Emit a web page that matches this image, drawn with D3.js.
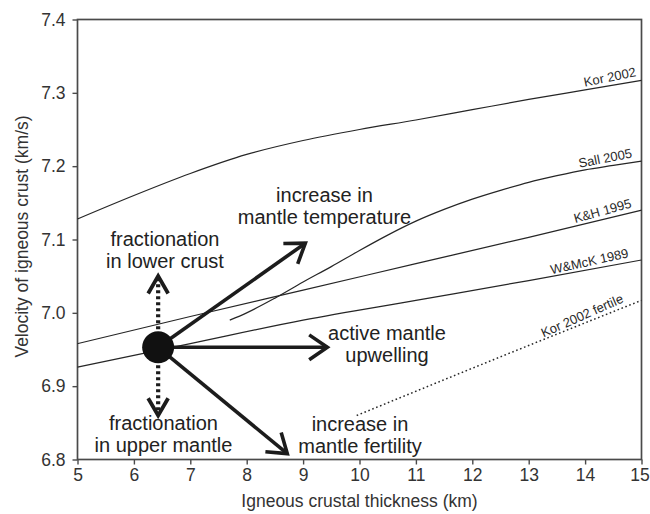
<!DOCTYPE html>
<html>
<head>
<meta charset="utf-8">
<script src="https://cdn.jsdelivr.net/npm/d3@7"></script>
<style>
  html, body { margin: 0; padding: 0; background: #fff; }
  svg { display: block; font-family: "Liberation Sans", Arial, Helvetica, sans-serif; }
</style>
</head>
<body>
<svg id="chart" width="650" height="514"></svg>
<script>
// Crustal thickness (km) vs. lower-crust P-wave velocity (km/s) model curves
const xTicks = [5, 6, 7, 8, 9, 10, 11, 12, 13, 14, 15];
const yTicks = [6.8, 6.9, 7.0, 7.1, 7.2, 7.3, 7.4];

const kor2002 = [[5, 7.128], [6, 7.16], [7, 7.19], [8, 7.216], [9, 7.235], [10, 7.25],
                 [11, 7.263], [12, 7.277], [13, 7.291], [14, 7.304], [15, 7.317]];
const sall2005 = [[7.7, 6.99], [8, 7.0], [8.5, 7.02], [9, 7.042], [9.5, 7.063], [10, 7.085],
                  [10.5, 7.106], [11, 7.125], [11.5, 7.141], [12, 7.155], [12.5, 7.167],
                  [13, 7.178], [13.5, 7.187], [14, 7.195], [14.5, 7.201], [15, 7.207]];
const kh1995 = [[5, 6.958], [7, 6.995], [9, 7.031], [11, 7.067], [13, 7.103], [15, 7.14]];
const wmck1989 = [[5, 6.926], [7, 6.958], [9, 6.99], [11, 7.017], [13, 7.044], [15, 7.072]];
const kor2002fertile = [[9.95, 6.86], [12.5, 6.94], [15, 7.017]];

const seriesNames = ["Kor 2002", "Sall 2005", "K&H 1995", "W&McK 1989", "Kor 2002 fertile"];
const seriesValues = [kor2002, sall2005, kh1995, wmck1989, kor2002fertile];
const labelEndX = [14.93, 14.86, 14.86, 14.8, 14.73];
const labelStartX = [13.95, 13.9, 13.85, 13.4, 13.2];

// reference state and the direction of change for each process
const origin = [6.43, 6.953];
const solidArrowTips = [[9.04, 7.095], [9.43, 6.953], [8.72, 6.808]];
const dottedArrowTips = [[6.43, 7.050], [6.43, 6.860]];

const noteLines = [
  ["fractionation", "in lower crust"],
  ["increase in", "mantle temperature"],
  ["active mantle", "upwelling"],
  ["fractionation", "in upper mantle"],
  ["increase in", "mantle fertility"]
];
const noteAnchors = [[6.551, 7.0918], [9.379, 7.151], [10.488, 6.963], [6.525, 6.840], [10.009, 6.8386]];

const svg = d3.select("#chart");
const plotLeft = 77.5, plotRight = 641.5, plotTop = 19.5, plotBottom = 459.5;
const x = d3.scaleLinear().domain([5, 15]).range([plotLeft, plotRight]);
const y = d3.scaleLinear().domain([6.8, 7.4]).range([plotBottom, plotTop]);
const ink = "#1c1c1c";
const axisInk = "#4a4a4a";

// axes
const gx = svg.append("g").attr("transform", `translate(0,${plotBottom})`)
  .call(d3.axisBottom(x).tickValues(xTicks).tickSize(5).tickPadding(4).tickFormat(d3.format("d")));
const gy = svg.append("g").attr("transform", `translate(${plotLeft},0)`)
  .call(d3.axisLeft(y).tickValues(yTicks).tickSize(5).tickPadding(7).tickFormat(d3.format(".1f")));
[gx, gy].forEach(g => {
  g.select(".domain").remove();
  g.selectAll(".tick line").attr("stroke", axisInk).attr("stroke-width", 1.4);
  g.selectAll(".tick text").attr("fill", "#333").style("font-size", "17.5px")
    .style("font-family", '"Liberation Sans", Arial, sans-serif');
});
// keep the last x label inside the page edge
gx.selectAll(".tick text").filter(d => d === xTicks[xTicks.length - 1]).attr("dx", "-2");

// plot frame
svg.append("rect").attr("x", plotLeft).attr("y", plotTop)
  .attr("width", plotRight - plotLeft).attr("height", plotBottom - plotTop)
  .attr("fill", "none").attr("stroke", axisInk).attr("stroke-width", 1.7);

// axis titles
svg.append("text").attr("x", (plotLeft + plotRight) / 2).attr("y", 507)
  .attr("text-anchor", "middle").attr("fill", "#333").style("font-size", "17.5px")
  .text("Igneous crustal thickness (km)");
svg.append("text").attr("transform", `translate(28,${(plotTop + plotBottom) / 2 - 3}) rotate(-90)`)
  .attr("text-anchor", "middle").attr("fill", "#333").style("font-size", "17.5px")
  .text("Velocity of igneous crust (km/s)");

// model curves
const line = d3.line().x(d => x(d[0])).y(d => y(d[1])).curve(d3.curveMonotoneX);
function valueAt(pts, xv) {
  for (let i = 1; i < pts.length; i++) {
    if (xv <= pts[i][0]) {
      const t = (xv - pts[i - 1][0]) / (pts[i][0] - pts[i - 1][0]);
      return pts[i - 1][1] + t * (pts[i][1] - pts[i - 1][1]);
    }
  }
  return pts[pts.length - 1][1];
}
seriesValues.forEach((pts, i) => {
  const fertile = i === 4;
  svg.append("path").attr("d", line(pts)).attr("fill", "none")
    .attr("stroke", "#262626").attr("stroke-width", fertile ? 1.5 : 1.2)
    .attr("stroke-dasharray", fertile ? "1.6,2.6" : null);

  const xe = labelEndX[i], xs = labelStartX[i];
  const px = x(xe), py = y(valueAt(pts, xe));
  const ang = Math.atan2(y(valueAt(pts, xe)) - y(valueAt(pts, xs)), x(xe) - x(xs)) * 180 / Math.PI;
  svg.append("text")
    .attr("transform", `translate(${px},${py}) rotate(${ang - 2}) translate(0,-5)`)
    .attr("text-anchor", "end").attr("fill", "#2a2a2a").style("font-size", "13px")
    .text(seriesNames[i]);
});

// arrows
const ox = x(origin[0]), oy = y(origin[1]);
function chevron(tx, ty, fx, fy, len, half) {
  const a = Math.atan2(fy - ty, fx - tx);
  const p1 = [tx + len * Math.cos(a + half), ty + len * Math.sin(a + half)];
  const p2 = [tx + len * Math.cos(a - half), ty + len * Math.sin(a - half)];
  return `M${p1[0]},${p1[1]}L${tx},${ty}L${p2[0]},${p2[1]}`;
}
dottedArrowTips.forEach(t => {
  const tx = x(t[0]), ty = y(t[1]);
  svg.append("line").attr("x1", ox).attr("y1", oy).attr("x2", tx).attr("y2", ty + (ty < oy ? 3 : -3))
    .attr("stroke", ink).attr("stroke-width", 4.2).attr("stroke-dasharray", "3,3");
  svg.append("path").attr("d", chevron(tx, ty, ox, oy, 20, Math.PI / 6))
    .attr("fill", "none").attr("stroke", ink).attr("stroke-width", 3.8)
    .attr("stroke-linecap", "butt").attr("stroke-linejoin", "miter");
});
solidArrowTips.forEach(t => {
  const tx = x(t[0]), ty = y(t[1]);
  svg.append("line").attr("x1", ox).attr("y1", oy).attr("x2", tx).attr("y2", ty)
    .attr("stroke", ink).attr("stroke-width", 3.6);
  svg.append("path").attr("d", chevron(tx, ty, ox, oy, 22, 0.6))
    .attr("fill", "none").attr("stroke", ink).attr("stroke-width", 3.6)
    .attr("stroke-linejoin", "miter");
});
svg.append("circle").attr("cx", ox).attr("cy", oy).attr("r", 16).attr("fill", "#111");

// process annotations
noteLines.forEach((lines, i) => {
  const t = svg.append("text").attr("text-anchor", "middle").attr("fill", "#222")
    .style("font-size", "20px");
  lines.forEach((s, j) => {
    t.append("tspan").attr("x", x(noteAnchors[i][0])).attr("y", y(noteAnchors[i][1]) + j * 22).text(s);
  });
});
</script>
</body>
</html>
